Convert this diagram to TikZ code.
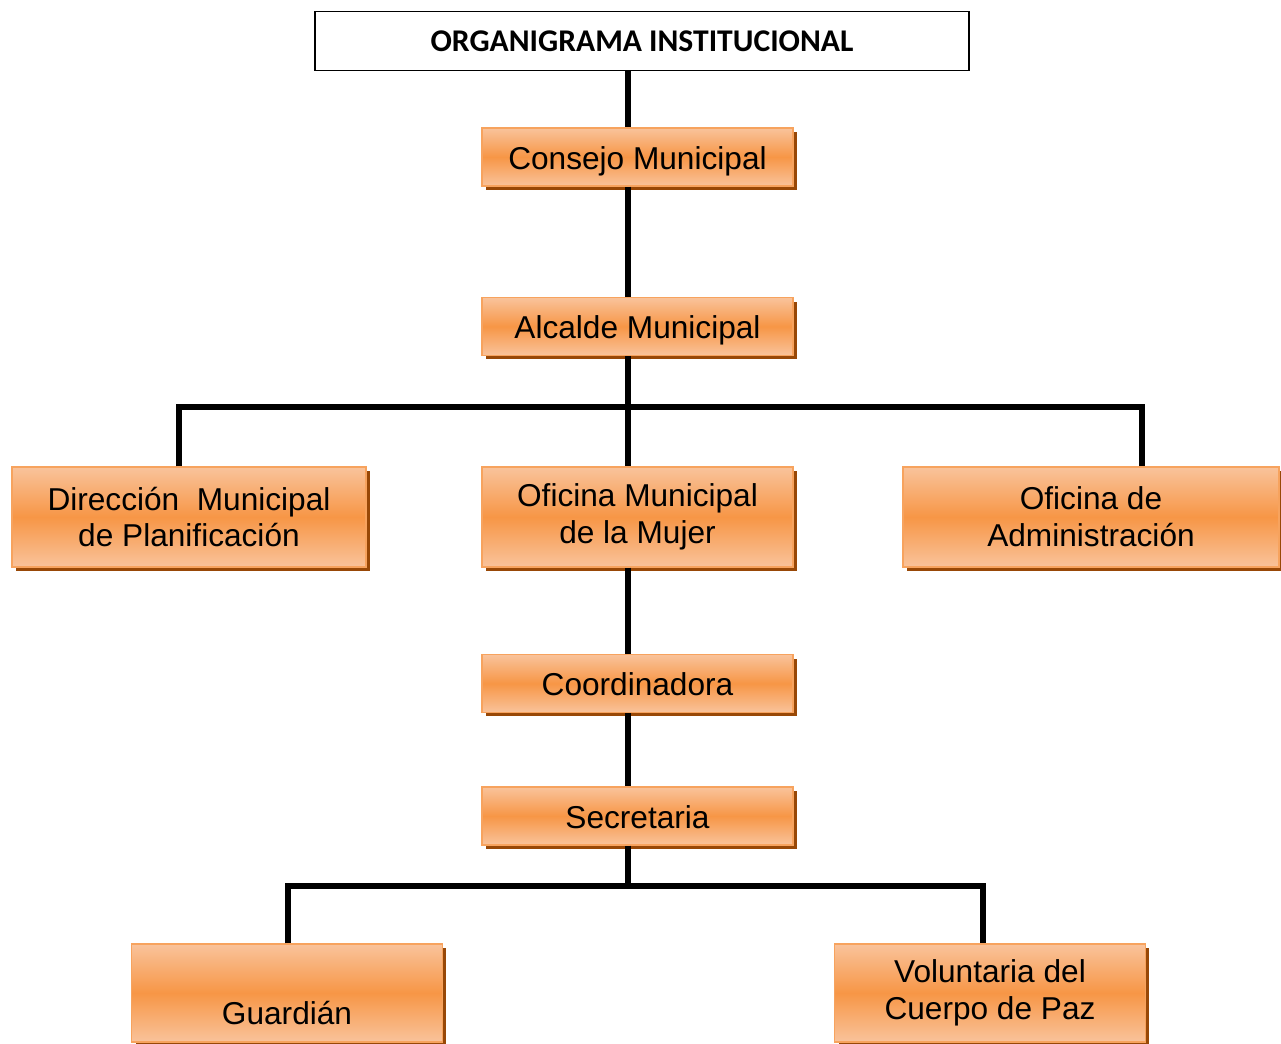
\documentclass[tikz,border=0pt]{standalone}
\usepackage{fontspec}
\setmainfont{Liberation Sans}
\newfontfamily\titlefont{Carlito}
\usetikzlibrary{positioning,shadows}
\definecolor{boxtop}{HTML}{F9C39B}
\definecolor{boxmid}{HTML}{F79646}
\definecolor{boxline}{HTML}{F7A35E}
\definecolor{boxshadow}{HTML}{984807}

\begin{document}
\begin{tikzpicture}[x=0.02cm, y=-0.02cm, line width=3pt,
      every node/.append style={font=\fontsize{18}{21}\selectfont, align=center, inner sep=0pt},
      box/.style={rectangle, draw=boxline, line width=0.8pt, top color=boxtop, bottom color=boxtop, middle color=boxmid,
        minimum width=6.22cm,
        drop shadow={shadow xshift=0.08cm, shadow yshift=-0.08cm, fill=boxshadow, opacity=1}},
      unit/.style={box, minimum height=1.16cm, text height=14pt, text depth=0pt},
      tall/.style={box, minimum height=2cm}]
    \useasboundingbox (0,0) rectangle (1281,1044);
    \node (title) [draw, fill=white, line width=1pt, minimum width=13.08cm, minimum height=1.18cm,
      font=\titlefont\bfseries\fontsize{18}{20}\selectfont] at (642,41) {ORGANIGRAMA INSTITUCIONAL};
    \node (cons) [unit] at (637.5,157) {Consejo Municipal};
    \node (alc) [unit] at (637.5,326.5) {Alcalde Municipal};
    \node (dir) [tall, minimum width=7.08cm] at (189,517) {Direcci\'on\ \ Municipal\\de Planificaci\'on};
    \node (muj) [tall] at (637.5,517) {Oficina Municipal\\de la Mujer};
    \node (adm) [tall, minimum width=7.52cm] at (1091,517) {Oficina de\\Administraci\'on};
    \node (coord) [unit] at (637.5,683.5) {Coordinadora};
    \node (sec) [unit] at (637.5,816) {Secretaria};
    \node (guard) [tall, minimum height=1.96cm] at (287,993) {\strut\\Guardi\'an};
    \node (vol) [tall, minimum height=1.96cm] at (990,993) {Voluntaria del\\Cuerpo de Paz};
    % connectors
    \coordinate (spine) at (628,0);
    \coordinate (b1l) at (179,407);
    \coordinate (b1r) at (1142,407);
    \coordinate (b2l) at (288,886);
    \coordinate (b2r) at (983,886);
    \draw (title.south -| spine) -- (cons.north -| spine);
    \draw (cons.south -| spine) -- (alc.north -| spine);
    \draw (alc.south -| spine) -- (muj.north -| spine);
    \draw (dir.north -| b1l) -- (b1l) -- (b1r) -- (adm.north -| b1r);
    \draw (muj.south -| spine) -- (coord.north -| spine);
    \draw (coord.south -| spine) -- (sec.north -| spine);
    \draw (sec.south -| spine) -- (b2l -| spine);
    \draw (guard.north -| b2l) -- (b2l) -- (b2r) -- (vol.north -| b2r);
\end{tikzpicture}
\end{document}
